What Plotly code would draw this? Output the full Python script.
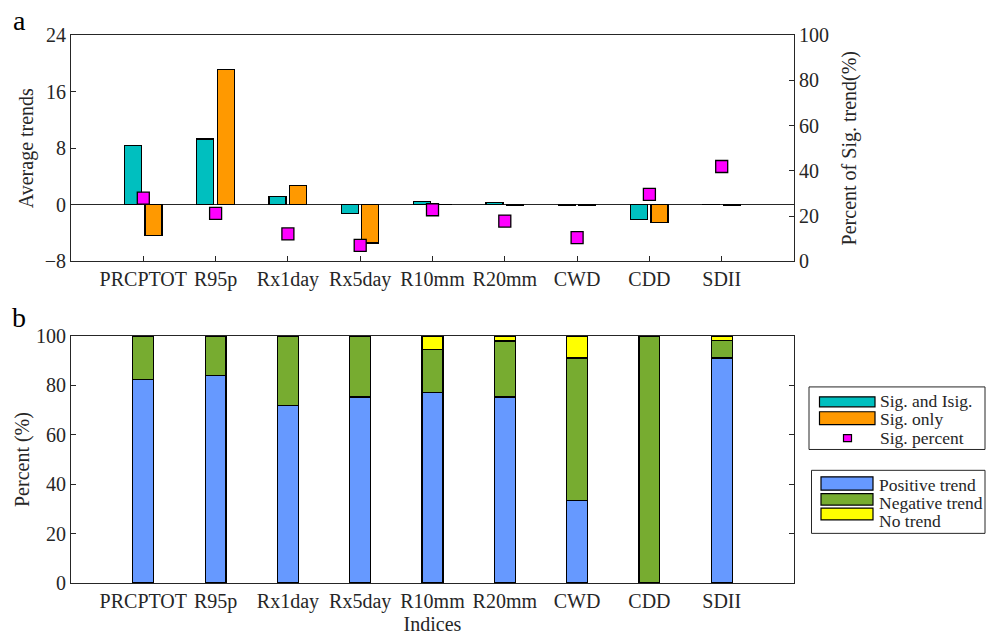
import plotly.graph_objects as go

# Extreme precipitation indices
indices = ["PRCPTOT", "R95p", "Rx1day", "Rx5day", "R10mm", "R20mm", "CWD", "CDD", "SDII"]

# Panel a: average trends (left axis) and share of significant stations (right axis)
trend_all = [8.37, 9.31, 1.22, -1.21, 0.42, 0.30, -0.08, -2.10, 0.05]
trend_sig = [-4.35, 19.16, 2.76, -5.41, 0.05, -0.10, -0.10, -2.47, -0.08]
sig_percent = [27.9, 21.2, 12.1, 7.1, 22.8, 17.8, 10.5, 29.6, 41.9]

# Panel b: share of stations by trend direction (%)
positive = [82.4, 84.1, 71.8, 75.3, 77.0, 75.3, 33.3, 0.0, 91.1]
negative = [17.6, 15.9, 28.2, 24.7, 17.6, 22.7, 57.8, 100.0, 7.1]
no_trend = [0.0, 0.0, 0.0, 0.0, 5.4, 2.0, 8.9, 0.0, 1.8]

TEAL = "#00BFBF"
ORANGE = "#FF9900"
MAGENTA = "#FF00FF"
BLUE = "#6699FF"
GREEN = "#77AC30"
YELLOW = "#FFFF00"
INK = "#262626"
FONT = "Liberation Serif"

W, H = 993, 643
ML, MR, MT, MB = 71, 199, 35, 56
PW, PH = W - ML - MR, H - MT - MB

pos = list(range(1, len(indices) + 1))


def px_x(x):
    return (x - ML) / PW


def px_y(y):
    return (H - MB - y) / PH


fig = go.Figure()

edge = dict(color="black", width=1.2)
fig.add_trace(go.Bar(x=[p - 0.143 for p in pos], y=trend_all, width=0.235,
                     marker=dict(color=TEAL, line=edge), xaxis="x", yaxis="y",
                     name="Sig. and Isig.", showlegend=False))
fig.add_trace(go.Bar(x=[p + 0.14 for p in pos], y=trend_sig, width=0.235,
                     marker=dict(color=ORANGE, line=edge), xaxis="x", yaxis="y",
                     name="Sig. only", showlegend=False))
fig.add_trace(go.Scatter(x=pos, y=sig_percent, mode="markers",
                         marker=dict(symbol="square", size=12, color=MAGENTA,
                                     line=dict(color="black", width=1.3)),
                         xaxis="x", yaxis="y2", name="Sig. percent", showlegend=False))

for vals, col, nm in [(positive, BLUE, "Positive trend"),
                      (negative, GREEN, "Negative trend"),
                      (no_trend, YELLOW, "No trend")]:
    fig.add_trace(go.Bar(x=pos, y=vals, width=0.29,
                         marker=dict(color=col, line=edge), xaxis="x2", yaxis="y3",
                         name=nm, showlegend=False))

axis_common = dict(showline=True, linecolor=INK, linewidth=1, ticks="inside",
                   ticklen=5, tickcolor=INK, showgrid=False, zeroline=False,
                   tickfont=dict(family=FONT, size=20, color=INK))
title_font = dict(family=FONT, size=20, color=INK)

top_dom = [px_y(263), 1.0]
bot_dom = [0.0, px_y(338.3)]

fig.update_layout(
    width=W, height=H, margin=dict(l=ML, r=MR, t=MT, b=MB),
    paper_bgcolor="white", plot_bgcolor="white",
    barmode="stack", showlegend=False,
    font=dict(family=FONT, color=INK),
    xaxis=dict(axis_common, domain=[0, 1], anchor="y", range=[0, 10],
               tickvals=pos, ticktext=indices, mirror=True),
    yaxis=dict(axis_common, domain=top_dom, anchor="x", range=[-8, 24],
               tickvals=[-8, 0, 8, 16, 24], zeroline=True, zerolinecolor=INK,
               zerolinewidth=1,
               title=dict(text="Average trends", font=title_font, standoff=5)),
    yaxis2=dict(axis_common, overlaying="y", anchor="x", side="right",
                range=[0, 100], tickvals=[0, 20, 40, 60, 80, 100],
                title=dict(text="Percent of Sig. trend(%)", font=title_font, standoff=14)),
    xaxis2=dict(axis_common, domain=[0, 1], anchor="y3", range=[0, 10],
                tickvals=pos, ticktext=indices, ticks="", mirror=True,
                title=dict(text="Indices", font=title_font, standoff=4)),
    yaxis3=dict(axis_common, domain=bot_dom, anchor="x2", range=[0, 100],
                tickvals=[0, 20, 40, 60, 80, 100], mirror="ticks",
                title=dict(text="Percent (%)", font=title_font, standoff=0)),
)

# Panel letters
for letter, ypx in [("a", 20), ("b", 320)]:
    fig.add_annotation(text=letter, xref="paper", yref="paper", x=px_x(19), y=px_y(ypx),
                       showarrow=False, font=dict(family=FONT, size=28, color="black"),
                       xanchor="center", yanchor="middle")

# Legend boxes
shapes = []
annots = []


def legend_box(x0, y0, x1, y1):
    shapes.append(dict(type="rect", xref="paper", yref="paper",
                       x0=px_x(x0), x1=px_x(x1), y0=px_y(y1), y1=px_y(y0),
                       line=dict(color=INK, width=1), fillcolor="white"))


def swatch(x0, y0, x1, y1, color):
    shapes.append(dict(type="rect", xref="paper", yref="paper",
                       x0=px_x(x0), x1=px_x(x1), y0=px_y(y1), y1=px_y(y0),
                       line=dict(color="black", width=1.2), fillcolor=color))


def label(x, y, text):
    annots.append(dict(text=text, xref="paper", yref="paper", x=px_x(x), y=px_y(y),
                       showarrow=False, xanchor="left", yanchor="middle",
                       font=dict(family=FONT, size=17.5, color=INK)))


legend_box(809, 389.5, 985, 452.5)
swatch(819.5, 399.5, 875, 409.5, TEAL)
swatch(819.5, 414.5, 875, 427.5, ORANGE)
swatch(843.5, 437.5, 851.5, 444.5, MAGENTA)
label(878, 404, "Sig. and Isig.")
label(878, 422, "Sig. only")
label(878, 441, "Sig. percent")

legend_box(811.5, 473.5, 985, 537)
swatch(821, 480, 873, 493.5, BLUE)
swatch(821, 497, 873, 508.5, GREEN)
swatch(821, 511.5, 873, 523.5, YELLOW)
label(876.5, 488, "Positive trend")
label(876.5, 506, "Negative trend")
label(876.5, 524.5, "No trend")

fig.update_layout(shapes=shapes)
for a in annots:
    fig.add_annotation(a)

fig.write_html("out.html")
